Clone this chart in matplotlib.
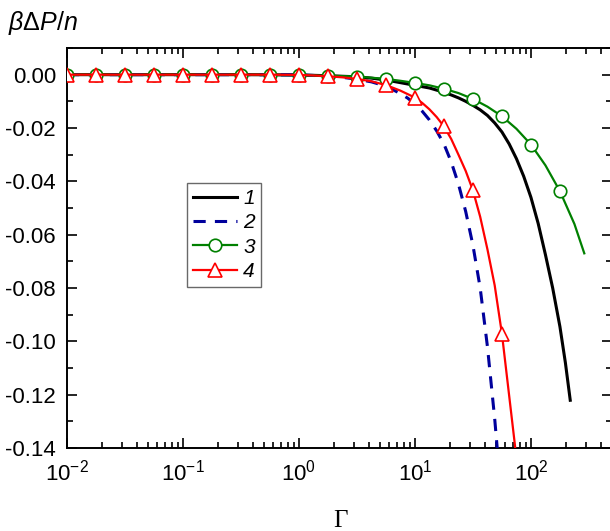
import numpy as np
import matplotlib
matplotlib.use("Agg")
import matplotlib.pyplot as plt
from matplotlib.ticker import FixedLocator, LogLocator, NullFormatter, FormatStrFormatter

plt.rcParams['font.family'] = ['Liberation Sans', 'DejaVu Sans']
plt.rcParams['mathtext.fontset'] = 'custom'
plt.rcParams['mathtext.rm'] = 'Liberation Sans'
plt.rcParams['mathtext.it'] = 'Liberation Sans:italic'
plt.rcParams['axes.unicode_minus'] = False

# log10(Gamma) points and values of beta*DeltaP/n
L1 = [-2, -1.5, -1, -0.5, 0, 0.25, 0.5, 0.625, 0.75, 0.875, 1.0, 1.125, 1.25, 1.3125,
      1.375, 1.4375, 1.5, 1.5625, 1.625, 1.6875, 1.75, 1.8125, 1.875, 1.9375, 2.0,
      2.0625, 2.125, 2.1875, 2.25, 2.297, 2.339]
v1 = [0, 0, 0, 0, -0.0001, -0.0004, -0.0008, -0.0013, -0.0020, -0.0030, -0.0040, -0.0050,
      -0.0066, -0.0076, -0.0087, -0.0100, -0.0115, -0.0132, -0.0153, -0.0181, -0.0215,
      -0.0260, -0.0315, -0.0381, -0.0460, -0.0558, -0.0675, -0.0800, -0.0945, -0.1080,
      -0.1221]

L2 = [-2, -1.5, -1, -0.5, 0, 0.125, 0.25, 0.375, 0.5, 0.625, 0.75, 0.875, 0.9375, 1.0,
      1.0625, 1.125, 1.1875, 1.25, 1.3125, 1.375, 1.4375, 1.5, 1.5625, 1.625, 1.6875, 1.71]
v2 = [0, 0, 0, 0, -0.0001, -0.0003, -0.0006, -0.0010, -0.0017, -0.0027, -0.0043, -0.0071,
      -0.0088, -0.0110, -0.0137, -0.0170, -0.0211, -0.0260, -0.0327, -0.0410, -0.0513,
      -0.0640, -0.0800, -0.1020, -0.1290, -0.1404]

L3 = [-2, -1.75, -1.5, -1.25, -1, -0.75, -0.5, -0.25, 0, 0.25, 0.5, 0.75, 0.875, 1.0,
      1.125, 1.25, 1.375, 1.5, 1.625, 1.75, 1.875, 2.0, 2.125, 2.25, 2.375, 2.46]
v3 = [0, 0, 0, 0, 0, 0, 0, -0.0001, -0.0002, -0.0004, -0.0007, -0.0016, -0.0023, -0.0031,
      -0.0040, -0.0053, -0.0069, -0.0091, -0.0120, -0.0156, -0.0203, -0.0262, -0.0340,
      -0.0437, -0.0560, -0.0670]

L4 = [-2, -1.75, -1.5, -1.25, -1, -0.75, -0.5, -0.25, 0, 0.125, 0.25, 0.375, 0.5, 0.625,
      0.75, 0.875, 1.0, 1.0625, 1.125, 1.1875, 1.25, 1.3125, 1.375, 1.4375, 1.5, 1.5625,
      1.625, 1.6875, 1.75, 1.8, 1.866]
v4 = [0, 0, 0, 0, 0, 0, 0, 0, -0.0001, -0.0003, -0.0006, -0.0010, -0.0016, -0.0025,
      -0.0039, -0.0060, -0.0086, -0.0106, -0.0130, -0.0159, -0.0194, -0.0241, -0.0300,
      -0.0361, -0.0434, -0.0533, -0.0655, -0.0790, -0.0972, -0.1158, -0.1404]

# marker positions (log10 Gamma)
m3 = [-2, -1.75, -1.5, -1.25, -1, -0.75, -0.5, -0.25, 0, 0.25, 0.5, 0.75, 1.0, 1.25,
      1.5, 1.75, 2.0, 2.25]
m4 = [-2, -1.75, -1.5, -1.25, -1, -0.75, -0.5, -0.25, 0, 0.25, 0.5, 0.75, 1.0, 1.25,
      1.5, 1.75]

labels = ['1', '2', '3', '4']

fig = plt.figure(figsize=(6.10, 5.31), dpi=100)
ax = fig.add_axes([67/610, 83/531, 545/610, 400/531])

g1 = 10 ** np.array(L1)
g2 = 10 ** np.array(L2)
g3 = 10 ** np.array(L3)
g4 = 10 ** np.array(L4)

ax.plot(g1, v1, color='black', lw=2.2, label=labels[0], zorder=3,
        solid_joinstyle='round')
ax.plot(g2, v2, color='#00009c', lw=2.2, dashes=(4, 3), label=labels[1], zorder=3)
idx3 = [L3.index(m) for m in m3]
idx4 = [L4.index(m) for m in m4]
ax.plot(g3, v3, color='#008000', lw=1.6, marker='o', markevery=idx3, ms=9,
        mfc='white', mec='#008000', mew=1.2, label=labels[2], zorder=4)
ax.plot(g4, v4, color='#ff0000', lw=1.6, marker='^', markevery=idx4, ms=9.5,
        mfc='white', mec='#ff0000', mew=1.2, label=labels[3], zorder=5)

ax.set_xscale('log')
ax.set_xlim(0.01, 500)
ax.set_ylim(-0.14, 0.01)

ax.yaxis.set_major_locator(FixedLocator([0.0, -0.02, -0.04, -0.06, -0.08, -0.10, -0.12, -0.14]))
ax.yaxis.set_minor_locator(FixedLocator([0.01, -0.01, -0.03, -0.05, -0.07, -0.09, -0.11, -0.13]))
ax.yaxis.set_major_formatter(FormatStrFormatter('%.2f'))
ax.xaxis.set_major_locator(LogLocator(base=10, numticks=20))
ax.xaxis.set_minor_locator(LogLocator(base=10, subs=np.arange(2, 10), numticks=50))
ax.xaxis.set_minor_formatter(NullFormatter())

ax.tick_params(which='both', direction='in', top=True, right=True, labelsize=16,
               width=1.2, colors='black')
ax.tick_params(which='major', length=7, pad=8)
ax.tick_params(which='minor', length=4)
for s in ax.spines.values():
    s.set_linewidth(1.4)

fig.text(8/610, 1 - 30/531, r'$\beta\Delta P/n$', fontsize=18,
         family=['Liberation Sans', 'DejaVu Sans'], ha='left', va='baseline')
fig.text(340/610, 1 - 527/531, 'Γ', fontsize=18, family=['Liberation Serif', 'DejaVu Serif'],
         ha='center', va='baseline')

leg = ax.legend(loc='upper left', bbox_to_anchor=((187-67)/545, (448-183)/400),
                prop={'style': 'italic', 'size': 15}, frameon=True, fancybox=False,
                edgecolor='#444444', handlelength=2.1, handletextpad=0.3,
                labelspacing=0.25, borderpad=0.3, borderaxespad=0)
leg.get_frame().set_linewidth(1.0)

fig.savefig('out.png', dpi=100)
